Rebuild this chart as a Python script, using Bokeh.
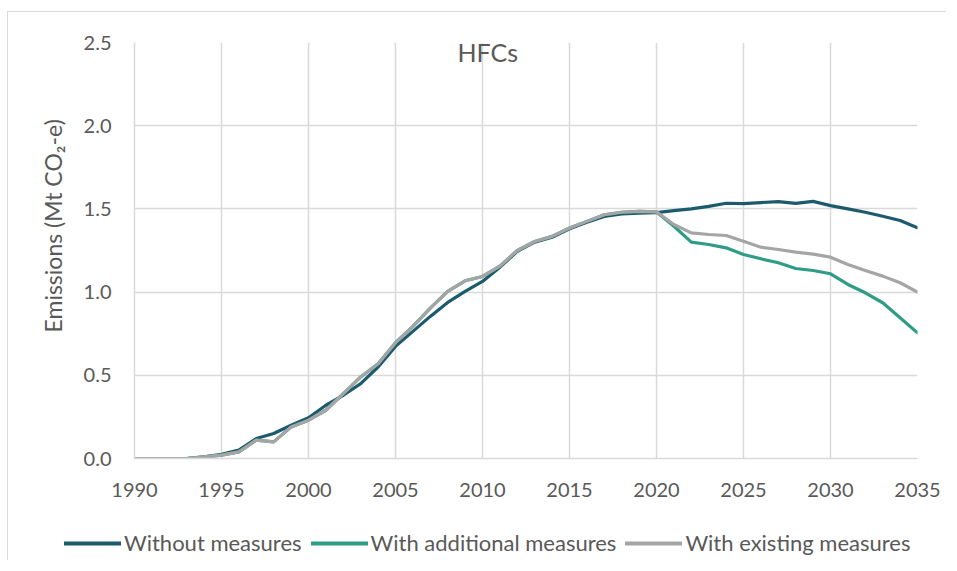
from bokeh.plotting import figure
from bokeh.models import Legend, LegendItem, Label, Title, Range1d, FixedTicker, NumeralTickFormatter
from bokeh.embed import file_html
from bokeh.resources import INLINE

years = list(range(1990, 2036))

without_measures = [0, 0, 0, 0, 0.01, 0.025, 0.05, 0.12, 0.15, 0.20,
                    0.245, 0.32, 0.38, 0.45, 0.55, 0.674, 0.764, 0.854, 0.938, 1.004,
                    1.064, 1.15, 1.245, 1.30, 1.33, 1.38, 1.42, 1.455, 1.47, 1.475,
                    1.478, 1.49, 1.50, 1.515, 1.534, 1.532, 1.538, 1.544, 1.533, 1.545,
                    1.52, 1.50, 1.48, 1.456, 1.43, 1.386]

with_existing = [0, 0, 0, 0, 0.01, 0.02, 0.04, 0.11, 0.10, 0.19,
                 0.23, 0.29, 0.39, 0.49, 0.57, 0.696, 0.794, 0.904, 1.004, 1.068,
                 1.094, 1.156, 1.25, 1.304, 1.335, 1.385, 1.425, 1.465, 1.48, 1.485,
                 1.482, 1.406, 1.356, 1.346, 1.34, 1.306, 1.27, 1.256, 1.24, 1.228,
                 1.21, 1.166, 1.13, 1.096, 1.056, 1.0]

with_additional = [0, 0, 0, 0, 0.01, 0.02, 0.04, 0.11, 0.10, 0.19,
                   0.23, 0.29, 0.39, 0.49, 0.57, 0.696, 0.794, 0.904, 1.004, 1.068,
                   1.094, 1.156, 1.25, 1.304, 1.335, 1.385, 1.425, 1.465, 1.48, 1.485,
                   1.482, 1.396, 1.30, 1.286, 1.266, 1.226, 1.20, 1.176, 1.142, 1.13,
                   1.11, 1.046, 0.996, 0.936, 0.846, 0.755]

series_names = ["Without measures", "With additional measures", "With existing measures"]
series_colors = ["#1c5a6e", "#2e9c86", "#a5a5a5"]
x_ticks = list(range(1990, 2036, 5))
y_ticks = [0.0, 0.5, 1.0, 1.5, 2.0, 2.5]
title_text = "HFCs"
y_label = "Emissions (Mt CO\u2082-e)"

FONT = "Lato"
TXT = "#595959"
GRID = "#d9d9d9"
data = [without_measures, with_additional, with_existing]

LINE = "linear-gradient(#d9d9d9,#d9d9d9)"
p = figure(width=946, height=510, output_backend="svg", toolbar_location=None,
           x_range=Range1d(1990, 2035), y_range=Range1d(0, 2.5),
           min_border_left=134, min_border_right=29, min_border_top=42, min_border_bottom=52,
           styles={"background": f"{LINE} 7px 11px / 100% 1px no-repeat, "
                                 f"{LINE} 7px 11px / 1px 100% no-repeat, white"})
p.outline_line_color = None
p.background_fill_color = "white"
p.border_fill_alpha = 0

p.xaxis.ticker = FixedTicker(ticks=x_ticks)
p.yaxis.ticker = FixedTicker(ticks=y_ticks)
p.yaxis.formatter = NumeralTickFormatter(format="0.0")
for ax in (p.xaxis, p.yaxis):
    ax.axis_line_color = GRID
    ax.axis_line_width = 1.5
    ax.major_tick_line_color = None
    ax.minor_tick_line_color = None
    ax.major_tick_out = 0
    ax.major_tick_in = 0
    ax.major_label_text_font = FONT
    ax.major_label_text_font_size = "20px"
    ax.major_label_text_color = TXT
p.yaxis.major_label_standoff = 23
p.xaxis.major_label_standoff = 24

# y-axis title as a side-panel Title so it can sit where the reference has it
p.add_layout(Title(text=y_label, align="left", offset=126, standoff=28,
                   text_font=FONT, text_font_size="23px", text_font_style="normal",
                   text_color=TXT), "left")

p.xgrid.ticker = FixedTicker(ticks=x_ticks)
p.ygrid.ticker = FixedTicker(ticks=y_ticks)
for g in (p.xgrid, p.ygrid):
    g.grid_line_color = GRID
    g.grid_line_width = 1.5

for name, col, vals in zip(series_names, series_colors, data):
    p.line(years, vals, line_color=col, line_width=3.2, line_join="round", line_cap="round")

p.add_layout(Label(x=2010.3, y=2.44, text=title_text, text_align="center",
                   text_baseline="alphabetic", text_font=FONT, text_font_size="25px",
                   text_color=TXT))

# Legend strip below the chart (own figure, full-width frame)
lf = figure(width=946, height=50, output_backend="svg", toolbar_location=None,
            x_range=Range1d(5000, 5001), y_range=Range1d(5000, 5001),
            x_axis_location=None, y_axis_location=None,
            min_border_left=0, min_border_right=0, min_border_top=0, min_border_bottom=0,
            styles={"background": f"{LINE} 7px 0 / 1px 100% no-repeat, white"})
lf.outline_line_color = None
lf.background_fill_alpha = 0
lf.border_fill_alpha = 0
lf.xgrid.visible = False
lf.ygrid.visible = False
legend_items = []
for name, col, vals in zip(series_names, series_colors, data):
    proxy = lf.line(years, vals, line_color=col, line_width=4, line_cap="round")
    legend_items.append(LegendItem(label=name, renderers=[proxy]))
legend = Legend(items=legend_items, orientation="horizontal", location=(64, 4),
                glyph_width=57, glyph_height=24, label_standoff=3, spacing=9,
                padding=0, margin=0, border_line_alpha=0, background_fill_alpha=0,
                label_text_font=FONT, label_text_font_size="22px", label_text_color=TXT,
                label_height=24)
lf.add_layout(legend, "center")

open("out.html", "w").write(file_html([p, lf], INLINE))
